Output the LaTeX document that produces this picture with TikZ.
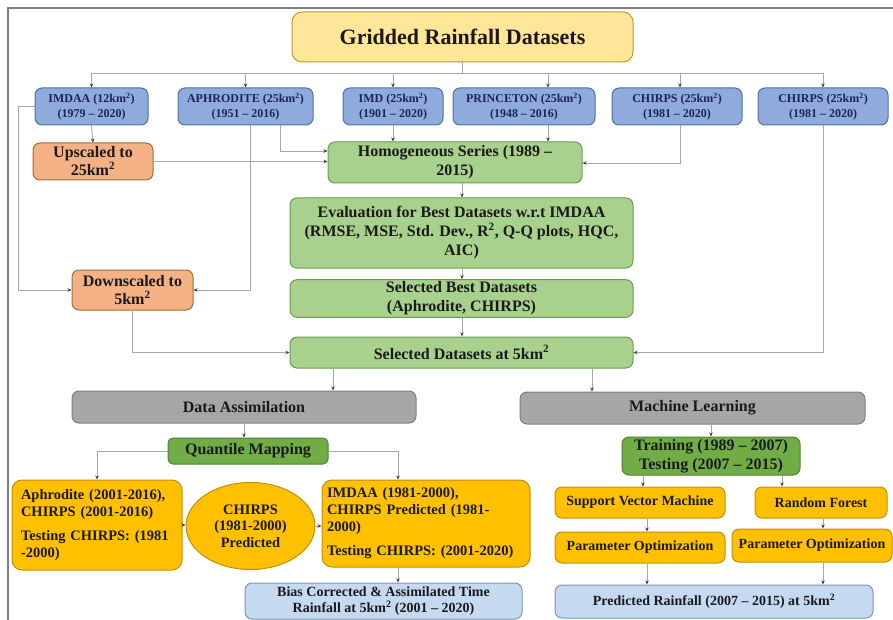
\documentclass[tikz,border=0pt]{standalone}
\usepackage{fontspec}
\setmainfont{Liberation Serif}
\usetikzlibrary{arrows.meta,shapes.geometric}
\definecolor{titlefill}{HTML}{FFE699}
\definecolor{titledraw}{HTML}{C09A2A}
\definecolor{bluefill}{HTML}{8FAADC}
\definecolor{bluedraw}{HTML}{52709E}
\definecolor{orfill}{HTML}{F4B183}
\definecolor{ordraw}{HTML}{A66A3C}
\definecolor{grfill}{HTML}{A9D18E}
\definecolor{grdraw}{HTML}{6E9A50}
\definecolor{gyfill}{HTML}{A6A6A6}
\definecolor{gydraw}{HTML}{7F7F7F}
\definecolor{dgfill}{HTML}{70AD47}
\definecolor{dgdraw}{HTML}{4E7F31}
\definecolor{yefill}{HTML}{FFC000}
\definecolor{yedraw}{HTML}{C09000}
\definecolor{lbfill}{HTML}{C5D9F1}
\definecolor{lbdraw}{HTML}{7F95B5}
\definecolor{navy}{HTML}{1F2458}
\definecolor{txt}{HTML}{1A1A1A}
\definecolor{linegray}{HTML}{A6A6A6}
\definecolor{tipgray}{HTML}{404040}
\newcommand\fs[2]{\fontsize{#1}{#2}\selectfont\bfseries}
\tikzset{
  box/.style={draw, rounded corners=7pt, line width=1pt, align=center, inner sep=2pt, text=txt},
  bluebox/.style={box, fill=bluefill, draw=bluedraw, text=navy, font=\fs{12}{14.5}},
  orbox/.style={box, fill=orfill, draw=ordraw, font=\fs{16}{18}},
  grbox/.style={box, fill=grfill, draw=grdraw, font=\fs{16}{19}},
  gybox/.style={box, fill=gyfill, draw=gydraw, font=\fs{16}{19}},
  dgbox/.style={box, fill=dgfill, draw=dgdraw, font=\fs{16}{19}},
  yebox/.style={box, fill=yefill, draw=yedraw, font=\fs{14.5}{17}},
  lbbox/.style={box, fill=lbfill, draw=lbdraw, font=\fs{14}{16.5}},
  link/.style={draw=linegray, line width=0.9pt},
  arr/.style={link, -{Stealth[length=4pt,width=3.5pt,color=tipgray]}}
}
\begin{document}
\begin{tikzpicture}[x=1pt,y=-1pt]
\useasboundingbox (0,0) rectangle (893,620);
\draw[gydraw, line width=1.2pt] (8,620) -- (8,8) -- (893,8);

% nodes
\node[box, fill=titlefill, draw=titledraw, rounded corners=10pt, minimum width=341pt, minimum height=50pt, font=\fs{22}{26}] (title) at (462.5,37) {Gridded Rainfall Datasets};

\node[bluebox, minimum width=113pt, minimum height=37pt] (imdaa) at (91.5,106.5) {IMDAA (12km\textsuperscript{2})\\(1979 – 2020)};
\node[bluebox, minimum width=135pt, minimum height=37pt] (aphro) at (245.5,106.5) {APHRODITE (25km\textsuperscript{2})\\(1951 – 2016)};
\node[bluebox, minimum width=100pt, minimum height=37pt] (imd) at (393,106.5) {IMD (25km\textsuperscript{2})\\(1901 – 2020)};
\node[bluebox, minimum width=142pt, minimum height=37pt] (princ) at (524,106.5) {PRINCETON (25km\textsuperscript{2})\\(1948 – 2016)};
\node[bluebox, minimum width=130pt, minimum height=37pt] (chA) at (677,106.5) {CHIRPS (25km\textsuperscript{2})\\(1981 – 2020)};
\node[bluebox, minimum width=130pt, minimum height=37pt] (chB) at (823,106.5) {CHIRPS (25km\textsuperscript{2})\\(1981 – 2020)};

\node[orbox, minimum width=120pt, minimum height=37pt] (up) at (93,161.5) {Upscaled to\\25km\textsuperscript{2}};
\node[grbox, minimum width=254pt, minimum height=41pt] (homog) at (455,162.5) {Homogeneous Series (1989 –\\2015)};
\node[grbox, minimum width=343pt, minimum height=70pt] (eval) at (461.5,233) {Evaluation for Best Datasets w.r.t IMDAA\\(RMSE, MSE, Std. Dev., R\textsuperscript{2}, Q-Q plots, HQC,\\AIC)};
\node[grbox, minimum width=343pt, minimum height=37pt] (best) at (461.5,298.5) {Selected Best Datasets\\(Aphrodite, CHIRPS)};
\node[orbox, minimum width=121pt, minimum height=40pt] (down) at (132.5,290) {Downscaled to\\5km\textsuperscript{2}};
\node[grbox, minimum width=343pt, minimum height=31pt] (sel) at (461.5,352.5) {Selected Datasets at 5km\textsuperscript{2}};

\node[gybox, minimum width=344pt, minimum height=32pt] (da) at (244,407) {Data Assimilation};
\node[gybox, minimum width=345pt, minimum height=32pt] (ml) at (692.5,408) {Machine Learning};

\node[dgbox, minimum width=160pt, minimum height=26pt, rounded corners=5pt] (qm) at (248,451) {Quantile Mapping};
\node[yebox, align=left, minimum width=170pt, minimum height=90pt, rounded corners=10pt, text width=152pt] (aphroB) at (97,525) {Aphrodite (2001-2016),\\CHIRPS (2001-2016)\\[7pt]Testing CHIRPS: (1981\\-2000)};
\node[draw=yedraw, fill=yefill, line width=1pt, ellipse, inner sep=0pt, minimum width=129pt, minimum height=87pt, align=center, text=txt, font=\fs{14.5}{16.5}] (ell) at (250.5,526) {CHIRPS\\(1981-2000)\\Predicted};
\node[yebox, align=left, minimum width=208pt, minimum height=87pt, rounded corners=10pt, text width=198pt] (imdaaB) at (426,523.5) {IMDAA (1981-2000),\\CHIRPS Predicted (1981-\\2000)\\[7pt]Testing CHIRPS: (2001-2020)};
\node[lbbox, minimum width=277pt, minimum height=36pt] (bias) at (383.5,601) {Bias Corrected \& Assimilated Time\\Rainfall at 5km\textsuperscript{2} (2001 – 2020)};

\node[dgbox, minimum width=178pt, minimum height=38pt] (train) at (711,456) {Training (1989 – 2007)\\Testing (2007 – 2015)};
\node[yebox, minimum width=170pt, minimum height=31pt, font=\fs{14}{16}] (svm) at (640,502.5) {Support Vector Machine};
\node[yebox, minimum width=132pt, minimum height=31pt, font=\fs{14}{16}] (rf) at (821,502.5) {Random Forest};
\node[yebox, minimum width=170pt, minimum height=31pt, font=\fs{14}{16}] (po1) at (640,547.5) {Parameter Optimization};
\node[yebox, minimum width=160pt, minimum height=33pt, font=\fs{14}{16}] (po2) at (812,545.5) {Parameter Optimization};
\node[lbbox, minimum width=318pt, minimum height=33pt] (pred) at (714,601.5) {Predicted Rainfall (2007 – 2015) at 5km\textsuperscript{2}};

% helper coordinates
\coordinate (busy) at (0,73);
\coordinate (xP) at (548,0);
\coordinate (xA1) at (250,0);
\coordinate (xA2) at (280,0);
\coordinate (yh1) at (0,151);
\coordinate (yh2) at (0,163);
\coordinate (x18) at (18,0);
\coordinate (xC) at (680,0);
\coordinate (xE) at (462,0);
\coordinate (xDA) at (333,0);
\coordinate (xML) at (592,0);
\coordinate (x398) at (398,0);
\coordinate (x643) at (643,0);
\coordinate (x782) at (782,0);
\coordinate (x647) at (647,0);
\coordinate (x823) at (823,0);

% connectors
\draw[link] (title.south) -- (title.south |- busy);
\draw[link] (imdaa.north |- busy) -- (chB.north |- busy);
\foreach \n in {imdaa,aphro,imd,chB} \draw[arr] (\n.north |- busy) -- (\n.north);
\draw[arr] (xP |- busy) -- (princ.north -| xP);
\draw[arr] (xC |- busy) -- (chA.north -| xC);

\draw[arr] (imdaa.south) -- (up.north);
\draw[arr] (up.east) -- (up.east -| homog.west);
\draw[arr] (aphro.south -| xA2) |- (homog.west |- yh1);
\draw[arr] (imd.south) -- (imd.south |- homog.north);
\draw[arr] (princ.south -| xP) -- (homog.north -| xP);
\draw[arr] (chA.south -| xC) |- (homog.east |- yh2);
\draw[arr] (aphro.south -| xA1) |- (down.east);
\draw[arr] (imdaa.west) -| (x18 |- down.west) -- (down.west);

\draw[arr] (homog.south -| xE) -- (eval.north -| xE);
\draw[arr] (eval.south -| xE) -- (best.north -| xE);
\draw[arr] (best.south -| xE) -- (sel.north -| xE);
\draw[arr] (down.south) |- (sel.west);
\draw[arr] (chB.south) |- (sel.east);

\draw[arr] (sel.south -| xDA) -- (da.north -| xDA);
\draw[arr] (sel.south -| xML) -- (ml.north -| xML);

\draw[arr] (da.south) -- (qm.north -| da.south);
\draw[arr] (qm.west) -| (aphroB.north);
\draw[arr] (qm.east) -| (imdaaB.north -| x398);
\draw[arr] (aphroB.east) -- (aphroB.east -| ell.west);
\draw[arr] (ell.east) -- (ell.east -| imdaaB.west);
\draw[arr] (imdaaB.south -| x398) -- (bias.north -| x398);

\draw[arr] (ml.south -| train.north) -- (train.north);
\draw[arr] (train.south -| x643) -- (svm.north -| x643);
\draw[arr] (train.south -| x782) -- (rf.north -| x782);
\draw[arr] (svm.south -| x647) -- (po1.north -| x647);
\draw[arr] (rf.south -| x823) -- (po2.north -| x823);
\draw[arr] (po1.south -| x647) -- (pred.north -| x647);
\draw[arr] (po2.south -| x823) -- (pred.north -| x823);
\end{tikzpicture}
\end{document}
